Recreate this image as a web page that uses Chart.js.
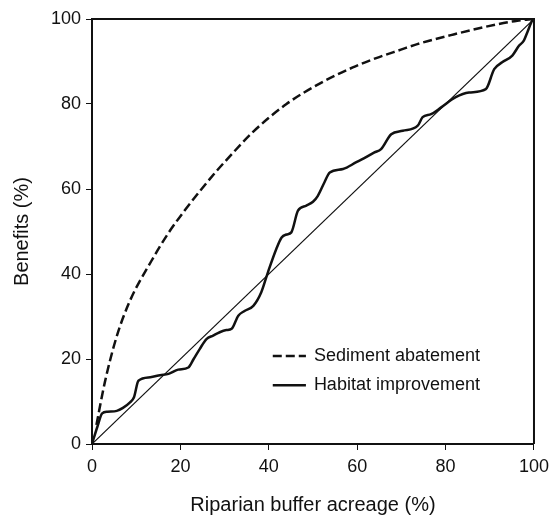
<!DOCTYPE html>
<html>
<head>
<meta charset="utf-8">
<script src="https://cdn.jsdelivr.net/npm/chart.js@4/dist/chart.umd.min.js"></script>
<style>
  html, body { margin: 0; padding: 0; background: #fff; }
  #wrap { width: 555px; height: 521px; position: relative; }
</style>
</head>
<body>
<div id="wrap"><canvas id="c" width="555" height="521"></canvas></div>
<script>
// ---- Data ----
const axisTicks = [0, 20, 40, 60, 80, 100];
const xTitle = 'Riparian buffer acreage (%)';
const yTitle = 'Benefits (%)';
const seriesNames = ['Sediment abatement', 'Habitat improvement'];

const sedimentX = [1.0, 2.9, 5.5, 8.5, 13.4, 17.2, 21.0, 24.8, 28.0, 30.4, 36.5, 44.0, 51.5, 59.0, 64.3, 69.9, 73.6, 81.2, 88.7, 96.2, 100];
const sedimentY = [4.5, 14.5, 25.0, 33.5, 43.0, 49.5, 55.0, 60.0, 64.0, 66.8, 73.5, 80.0, 84.8, 88.6, 90.8, 92.8, 94.1, 96.2, 98.1, 99.6, 100];

const habitatX = [0, 1.2, 2.3, 3.5, 5.6, 7.0, 8.6, 9.5, 10.5, 13.2, 15.4, 17.3, 19.5, 21.8, 23.0, 24.4, 25.9, 27.4, 28.9, 30.4, 31.6, 33.1, 34.5, 36.5, 38.3, 39.8, 41.7, 42.9, 44.0, 45.1, 46.6, 48.5, 50.0, 51.1, 52.6, 53.8, 56.8, 59.8, 61.5, 63.9, 65.4, 67.7, 70.3, 73.7, 74.8, 76.7, 79.0, 82.3, 85.3, 89.1, 91.0, 92.8, 95.1, 96.6, 97.7, 98.5, 99.6, 100];
const habitatY = [0, 4.0, 7.2, 7.6, 7.8, 8.5, 9.8, 11.0, 14.9, 15.7, 16.2, 16.5, 17.5, 18.0, 20.0, 22.4, 24.7, 25.5, 26.3, 26.8, 27.1, 30.2, 31.3, 32.5, 35.7, 40.4, 45.9, 48.6, 49.3, 49.8, 54.9, 56.1, 57.0, 58.4, 61.6, 63.9, 64.7, 66.3, 67.2, 68.6, 69.4, 72.9, 73.7, 74.9, 76.9, 77.6, 79.2, 81.6, 82.7, 83.5, 88.2, 89.8, 91.4, 93.7, 94.9, 96.9, 99.6, 100];

const diagonalX = [0, 100];
const diagonalY = [0, 100];

const toPts = (xs, ys) => xs.map((x, i) => ({ x: x, y: ys[i] }));

const FONT = "'Liberation Sans', Arial, Helvetica, sans-serif";
const INK = '#111';

const boxAndLegend = {
  id: 'boxAndLegend',
  afterDatasetsDraw(chart) {
    const { ctx, chartArea: a } = chart;
    const w = a.right - a.left, h = a.bottom - a.top;
    ctx.save();
    ctx.strokeStyle = INK;
    ctx.lineWidth = 2;
    ctx.beginPath();
    ctx.moveTo(a.left, a.top);
    ctx.lineTo(a.right, a.top);
    ctx.lineTo(a.right, a.bottom);
    ctx.stroke();

    const lx0 = a.left + w * 0.409;
    const lx1 = a.left + w * 0.484;
    const tx = a.left + w * 0.502;
    const ys = [a.top + h * 0.793, a.top + h * 0.862];
    ctx.font = '18px ' + FONT;
    ctx.fillStyle = INK;
    ctx.textBaseline = 'middle';
    ctx.textAlign = 'left';
    ctx.lineWidth = 2.5;
    ctx.setLineDash([9, 4]);
    ctx.beginPath(); ctx.moveTo(lx0, ys[0]); ctx.lineTo(lx1, ys[0]); ctx.stroke();
    ctx.setLineDash([]);
    ctx.beginPath(); ctx.moveTo(lx0, ys[1]); ctx.lineTo(lx1, ys[1]); ctx.stroke();
    ctx.fillText(seriesNames[0], tx, ys[0]);
    ctx.fillText(seriesNames[1], tx, ys[1]);
    ctx.restore();
  }
};

new Chart(document.getElementById('c'), {
  type: 'scatter',
  data: {
    datasets: [
      {
        label: seriesNames[0],
        data: toPts(sedimentX, sedimentY),
        showLine: true,
        borderColor: INK,
        borderWidth: 2.5,
        borderDash: [9, 4],
        pointRadius: 0,
        cubicInterpolationMode: 'monotone',
        fill: false
      },
      {
        label: seriesNames[1],
        data: toPts(habitatX, habitatY),
        showLine: true,
        borderColor: INK,
        borderWidth: 2.5,
        pointRadius: 0,
        cubicInterpolationMode: 'monotone',
        fill: false
      },
      {
        label: 'diagonal',
        data: toPts(diagonalX, diagonalY),
        showLine: true,
        borderColor: INK,
        borderWidth: 1.2,
        pointRadius: 0,
        fill: false
      }
    ]
  },
  options: {
    responsive: false,
    animation: false,
    devicePixelRatio: 1,
    layout: { padding: { top: 19, right: 20, left: 0, bottom: 0 } },
    plugins: { legend: { display: false }, tooltip: { enabled: false } },
    scales: {
      x: {
        type: 'linear',
        min: 0, max: 100,
        afterBuildTicks: (s) => { s.ticks = axisTicks.map(v => ({ value: v })); },
        afterFit: (s) => { s.height = 77; },
        border: { display: true, color: INK, width: 2 },
        grid: { drawOnChartArea: false, drawTicks: true, tickLength: 6, color: INK, lineWidth: 1 },
        ticks: { color: INK, font: { family: FONT, size: 18 }, padding: 6, maxRotation: 0 },
        title: { display: true, text: xTitle, color: INK, font: { family: FONT, size: 20 }, padding: { top: 0, bottom: 4 } }
      },
      y: {
        type: 'linear',
        min: 0, max: 100,
        afterBuildTicks: (s) => { s.ticks = axisTicks.map(v => ({ value: v })); },
        afterFit: (s) => { s.width = 92; },
        border: { display: true, color: INK, width: 2 },
        grid: { drawOnChartArea: false, drawTicks: true, tickLength: 6, color: INK, lineWidth: 1 },
        ticks: { color: INK, font: { family: FONT, size: 18 }, padding: 5 },
        title: { display: true, text: yTitle, color: INK, font: { family: FONT, size: 20 }, padding: { top: 10, bottom: 0 } }
      }
    }
  },
  plugins: [boxAndLegend]
});
</script>
</body>
</html>
